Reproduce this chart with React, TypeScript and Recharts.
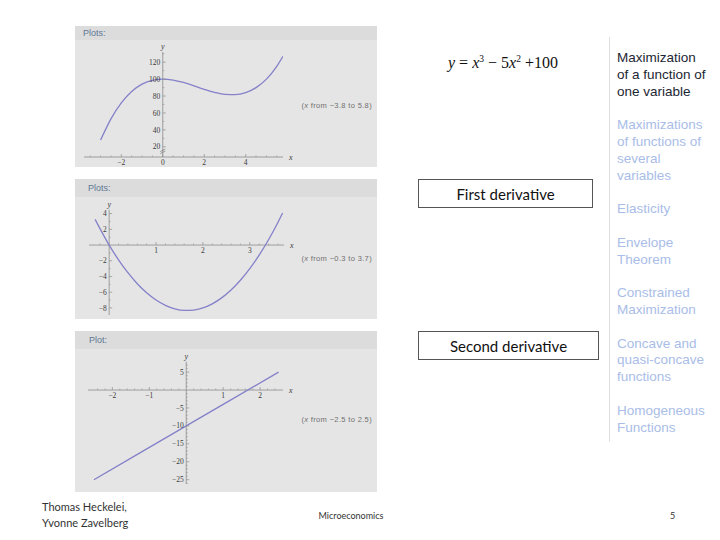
import React from "react";
import { LineChart, Line, XAxis, YAxis, ReferenceLine, ReferenceDot } from "recharts";

// y = x^3 - 5x^2 + 100 (top plot)
const fX = [-3, -2.5, -2, -1.5, -1, -0.5, 0, 0.5, 1, 1.5, 2, 2.5, 3, 3.5, 4, 4.5, 5, 5.5, 5.8];
const fY = [28, 53.1, 72, 85.4, 94, 98.6, 100, 98.9, 96, 92.1, 88, 84.4, 82, 81.6, 84, 89.9, 100, 115.1, 126.9];
const fXTicks = [-2, 0, 2, 4];
const fYTicks = [20, 40, 60, 80, 100, 120];
const fXMinor = [-3.5, -3, -2.5, -1.5, -1, -0.5, 0.5, 1, 1.5, 2.5, 3, 3.5, 4.5, 5, 5.5];
const fYMinor = [30, 50, 70, 90, 110, 130];

// first derivative 3x^2 - 10x
const dfX = [-0.3, 0, 0.2, 0.4, 0.6, 0.8, 1, 1.2, 1.4, 1.6, 1.8, 2, 2.2, 2.4, 2.6, 2.8, 3, 3.2, 3.4, 3.6, 3.7];
const dfY = [3.27, 0, -1.88, -3.52, -4.92, -6.08, -7, -7.68, -8.12, -8.32, -8.28, -8, -7.48, -6.72, -5.72, -4.48, -3, -1.28, 0.68, 2.88, 4.07];
const dfXTicks = [1, 2, 3];
const dfYTicks = [4, 2, -2, -4, -6, -8];
const dfXMinor = [-0.2, 0.2, 0.4, 0.6, 0.8, 1.2, 1.4, 1.6, 1.8, 2.2, 2.4, 2.6, 2.8, 3.2, 3.4, 3.6];
const dfYMinor = [3, 1, -1, -3, -5, -7];

// second derivative 6x - 10
const d2fX = [-2.5, 0, 2.5];
const d2fY = [-25, -10, 5];
const d2fXTicks = [-2, -1, 1, 2];
const d2fYTicks = [5, -5, -10, -15, -20, -25];
const d2fXMinor = [-2.4, -2.2, -1.8, -1.6, -1.4, -1.2, -0.8, -0.6, -0.4, -0.2, 0.2, 0.4, 0.6, 0.8, 1.2, 1.4, 1.6, 1.8, 2.2, 2.4];
const d2fYMinor = [7, 6, 4, 3, 2, 1, -1, -2, -3, -4, -6, -7, -8, -9, -11, -12, -13, -14, -16, -17, -18, -19, -21, -22, -23, -24, -26];

const menuItems = [
  "Maximization\nof a function of\none variable",
  "Maximizations\nof functions of\nseveral\nvariables",
  "Elasticity",
  "Envelope\nTheorem",
  "Constrained\nMaximization",
  "Concave and\nquasi-concave\nfunctions",
  "Homogeneous\nFunctions",
];

const AXIS = "#8c8c8c";
const CURVE = "#8481c9";
const TICK_TEXT = "#3a3a3a";
const SERIF = "'Liberation Serif', 'DejaVu Serif', serif";
const SANS = "'Liberation Sans', Arial, sans-serif";
const BODY = "Lato, 'Open Sans', sans-serif";

const fmt = (t: number) => (t < 0 ? `\u2212${-t}` : `${t}`);

type PlotProps = {
  xs: number[];
  ys: number[];
  xDomain: [number, number];
  yDomain: [number, number];
  xTicks: number[];
  yTicks: number[];
  xMinor: number[];
  yMinor: number[];
  xAxisAt: number;
  width: number;
  height: number;
  margin: { top: number; right: number; bottom: number; left: number };
  yBreak?: number;
};

function Plot({ xs, ys, xDomain, yDomain, xTicks, yTicks, xMinor, yMinor, xAxisAt, width, height, margin, yBreak }: PlotProps) {
  const data = xs.map((x, i) => ({ x, y: ys[i] }));
  return (
    <LineChart width={width} height={height} data={data} margin={margin}>
      <XAxis type="number" dataKey="x" domain={xDomain} hide allowDataOverflow />
      <YAxis type="number" domain={yDomain} hide allowDataOverflow />
      <ReferenceLine y={xAxisAt} stroke={AXIS} strokeWidth={0.8} />
      <ReferenceLine x={0} stroke={AXIS} strokeWidth={0.8} />
      {xMinor.map((t) => (
        <ReferenceDot key={"xm" + t} x={t} y={xAxisAt}
          shape={(p: any) => <line x1={p.cx} x2={p.cx} y1={p.cy} y2={p.cy - 1.5} stroke={AXIS} strokeWidth={0.6} />} />
      ))}
      {yMinor.map((t) => (
        <ReferenceDot key={"ym" + t} x={0} y={t}
          shape={(p: any) => <line x1={p.cx} x2={p.cx + 1.5} y1={p.cy} y2={p.cy} stroke={AXIS} strokeWidth={0.6} />} />
      ))}
      {xTicks.map((t) => (
        <ReferenceDot key={"xt" + t} x={t} y={xAxisAt}
          shape={(p: any) => (
            <g>
              <line x1={p.cx} x2={p.cx} y1={p.cy} y2={p.cy - 3} stroke={AXIS} strokeWidth={0.7} />
              <text x={p.cx} y={p.cy + 8} textAnchor="middle" fontSize={7.5} fontFamily={SERIF} fill={TICK_TEXT}>{fmt(t)}</text>
            </g>
          )} />
      ))}
      {yTicks.map((t) => (
        <ReferenceDot key={"yt" + t} x={0} y={t}
          shape={(p: any) => (
            <g>
              <line x1={p.cx} x2={p.cx + 3} y1={p.cy} y2={p.cy} stroke={AXIS} strokeWidth={0.7} />
              <text x={p.cx - 2.5} y={p.cy + 2.6} textAnchor="end" fontSize={7.5} fontFamily={SERIF} fill={TICK_TEXT}>{fmt(t)}</text>
            </g>
          )} />
      ))}
      {yBreak !== undefined && (
        <ReferenceDot x={0} y={yBreak}
          shape={(p: any) => (
            <g stroke="#666" strokeWidth={0.6}>
              <line x1={p.cx - 2.5} y1={p.cy + 0.5} x2={p.cx + 2.5} y2={p.cy - 2} />
              <line x1={p.cx - 2.5} y1={p.cy + 2.5} x2={p.cx + 2.5} y2={p.cy} />
            </g>
          )} />
      )}
      <ReferenceDot x={xDomain[1]} y={xAxisAt}
        shape={(p: any) => (
          <text x={p.cx + 6} y={p.cy + 2.5} fontSize={8} fontStyle="italic" fontFamily={SERIF} fill={TICK_TEXT}>x</text>
        )} />
      <ReferenceDot x={0} y={yDomain[1]}
        shape={(p: any) => (
          <text x={p.cx} y={p.cy - 3} textAnchor="middle" fontSize={8} fontStyle="italic" fontFamily={SERIF} fill={TICK_TEXT}>y</text>
        )} />
      <Line dataKey="y" type="monotone" dot={false} stroke={CURVE} strokeWidth={1.3} isAnimationActive={false} />
    </LineChart>
  );
}

function Panel({ top, headerH, bodyH, title, range, titleLeft, rangeTop, children }: {
  top: number; headerH: number; bodyH: number; title: string; range: string; titleLeft: number; rangeTop: number; children: React.ReactNode;
}) {
  return (
    <div style={{ position: "absolute", left: 75, top, width: 302, height: headerH + bodyH, background: "#e5e5e5" }}>
      <div style={{ height: headerH, background: "#dcdcdc", position: "relative" }}>
        <span style={{ position: "absolute", left: titleLeft, top: headerH / 2 - 5.5, fontSize: 9, lineHeight: "11px", color: "#5e7896", fontFamily: SANS }}>{title}</span>
      </div>
      <div style={{ position: "absolute", left: 0, top: headerH }}>{children}</div>
      <span style={{ position: "absolute", right: 5, top: rangeTop, fontSize: 7.5, letterSpacing: 0.35, lineHeight: "8px", color: "#707070", fontFamily: SANS, whiteSpace: "nowrap" }}>
        (<i>x</i> from {range})
      </span>
    </div>
  );
}

export default function App() {
  return (
    <div style={{ position: "absolute", left: 0, top: 0, width: 720, height: 540, background: "#fff", overflow: "hidden" }}>
      <Panel top={26} headerH={14} bodyH={127} title="Plots:" titleLeft={8} range={"\u22123.8 to 5.8"} rangeTop={76}>
        <Plot xs={fX} ys={fY} xDomain={[-3.8, 5.8]} yDomain={[8, 132]} xTicks={fXTicks} yTicks={fYTicks}
          xMinor={fXMinor} yMinor={fYMinor} xAxisAt={8} width={302} height={127}
          margin={{ top: 12, right: 94, bottom: 10, left: 9 }} yBreak={15} />
      </Panel>
      <Panel top={179} headerH={18} bodyH={122} title="Plots:" titleLeft={13} range={"\u22120.3 to 3.7"} rangeTop={76}>
        <Plot xs={dfX} ys={dfY} xDomain={[-0.43, 3.73]} yDomain={[-8.9, 4.5]} xTicks={dfXTicks} yTicks={dfYTicks}
          xMinor={dfXMinor} yMinor={dfYMinor} xAxisAt={0} width={302} height={122}
          margin={{ top: 12.7, right: 93, bottom: 4, left: 14 }} />
      </Panel>
      <Panel top={331} headerH={18} bodyH={143} title="Plot:" titleLeft={14} range={"\u22122.5 to 2.5"} rangeTop={85}>
        <Plot xs={d2fX} ys={d2fY} xDomain={[-2.66, 2.62]} yDomain={[-26.2, 7.9]} xTicks={d2fXTicks} yTicks={d2fYTicks}
          xMinor={d2fXMinor} yMinor={d2fYMinor} xAxisAt={0} width={302} height={143}
          margin={{ top: 12.7, right: 94, bottom: 8, left: 13 }} />
      </Panel>

      <div style={{ position: "absolute", left: 448, top: 50, fontFamily: SERIF, fontSize: 16, lineHeight: "18px", color: "#111", whiteSpace: "nowrap" }}>
        <i>y</i> = <i>x</i><sup style={{ fontSize: 9.5 }}>3</sup> {"\u2212"} 5<i>x</i><sup style={{ fontSize: 9.5 }}>2</sup> +100
      </div>

      <div style={{ position: "absolute", left: 418, top: 179, width: 173, height: 27, border: "1px solid #555", display: "flex", alignItems: "center", justifyContent: "center", fontFamily: BODY, fontSize: 15, color: "#111" }}>
        First derivative
      </div>
      <div style={{ position: "absolute", left: 418, top: 331, width: 179, height: 27, border: "1px solid #555", display: "flex", alignItems: "center", justifyContent: "center", fontFamily: BODY, fontSize: 15, color: "#111" }}>
        Second derivative
      </div>

      <div style={{ position: "absolute", left: 609, top: 37, width: 1, height: 405, background: "#dedede" }} />

      <div style={{ position: "absolute", left: 617, top: 50, fontFamily: SANS, fontSize: 13.5, lineHeight: "16.8px" }}>
        {menuItems.map((m, i) => (
          <div key={i} style={{ whiteSpace: "pre-line", marginBottom: 16.8, color: i === 0 ? "#1c2633" : "#a9bde8" }}>{m}</div>
        ))}
      </div>

      <div style={{ position: "absolute", left: 42, top: 499, fontFamily: BODY, fontSize: 11, lineHeight: "16px", color: "#333" }}>
        Thomas Heckelei,<br />Yvonne Zavelberg
      </div>
      <div style={{ position: "absolute", left: 301, width: 100, top: 509, textAlign: "center", fontFamily: BODY, fontSize: 9, lineHeight: "14px", color: "#333" }}>
        Microeconomics
      </div>
      <div style={{ position: "absolute", left: 670, top: 509, fontFamily: BODY, fontSize: 9, lineHeight: "14px", color: "#333" }}>
        5
      </div>
    </div>
  );
}
